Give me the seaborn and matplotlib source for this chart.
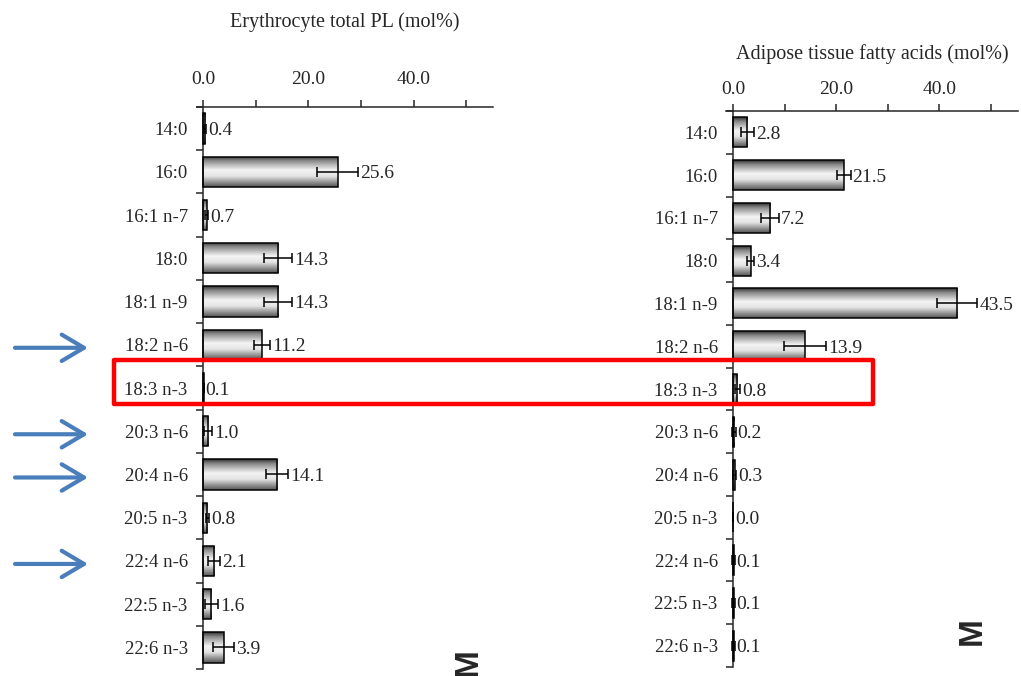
import numpy as np
import pandas as pd
import matplotlib
matplotlib.use("Agg")
import matplotlib.pyplot as plt
import seaborn as sns
from matplotlib.colors import LinearSegmentedColormap
from matplotlib.patches import Rectangle
from matplotlib.transforms import blended_transform_factory

# Fatty acid composition (mol%), mean and SD
fatty_acids = ["14:0", "16:0", "16:1 n-7", "18:0", "18:1 n-9", "18:2 n-6", "18:3 n-3",
               "20:3 n-6", "20:4 n-6", "20:5 n-3", "22:4 n-6", "22:5 n-3", "22:6 n-3"]
erythrocyte_mean = [0.4, 25.6, 0.7, 14.3, 14.3, 11.2, 0.1, 1.0, 14.1, 0.8, 2.1, 1.6, 3.9]
erythrocyte_sd = [0.2, 3.9, 0.3, 2.7, 2.7, 1.5, 0.0, 0.8, 2.1, 0.3, 1.2, 1.2, 2.0]
adipose_mean = [2.8, 21.5, 7.2, 3.4, 43.5, 13.9, 0.8, 0.2, 0.3, 0.0, 0.1, 0.1, 0.1]
adipose_sd = [1.2, 1.3, 1.7, 0.6, 3.9, 4.1, 0.5, 0.3, 0.3, 0.0, 0.2, 0.2, 0.2]
x_ticks = [0, 10, 20, 30, 40, 50]
x_ticklabels = ["0.0", "", "20.0", "", "40.0", ""]

highlighted = ["18:2 n-6", "20:3 n-6", "20:4 n-6", "22:4 n-6"]
boxed = "18:3 n-3"

sns.set_style("white")
plt.rcParams["font.family"] = ["Liberation Serif", "DejaVu Serif"]
plt.rcParams["axes.linewidth"] = 1.1

W, H = 1021, 676
fig = plt.figure(figsize=(W / 100, H / 100), dpi=100)

# cylinder-like shading for the bars
shade = LinearSegmentedColormap.from_list(
    "shade", [(0.0, "#333333"), (0.14, "#888888"), (0.45, "#f4f4f4"),
              (0.65, "#e4e4e4"), (1.0, "#555555")])
grad = np.linspace(0, 1, 64).reshape(-1, 1)


def draw_panel(ax, means, sds, title, xlim, tickpad, labelpad):
    df = pd.DataFrame({"fa": fatty_acids, "mol": means, "sd": sds})
    sns.barplot(data=df, x="mol", y="fa", orient="h", width=0.7, color="white",
                edgecolor="black", linewidth=1.1, ax=ax, errorbar=None)
    n = len(fatty_acids)
    ylim = (n - 0.5, -0.5)
    for p in ax.patches:
        x0, y0, w, h = p.get_x(), p.get_y(), p.get_width(), p.get_height()
        p.set_facecolor("none")
        p.set_zorder(3)
        if w <= 0:
            continue
        im = ax.imshow(grad, cmap=shade, aspect="auto", origin="upper",
                       extent=[x0, x0 + w, y0 + h, y0], zorder=2,
                       interpolation="bilinear")
        im.set_clip_path(p)
    ax.errorbar(df["mol"], np.arange(n), xerr=df["sd"], fmt="none",
                ecolor="black", elinewidth=1.1, capsize=3.8, capthick=1.1, zorder=4)
    for i, (v, s) in enumerate(zip(means, sds)):
        ax.annotate(f"{v:.1f}", xy=(v + s, i), xytext=(1.5, 0),
                    textcoords="offset points", ha="left", va="center_baseline",
                    fontsize=14, zorder=5)
    ax.set_xlim(*xlim)
    ax.set_ylim(*ylim)

    # value axis on top
    ax.xaxis.tick_top()
    ax.xaxis.set_label_position("top")
    ax.set_xticks(x_ticks)
    ax.set_xticklabels(x_ticklabels)
    ax.tick_params(axis="x", which="major", direction="out", length=5, width=1.1,
                   pad=tickpad, labelsize=14, top=True, bottom=False)
    ax.set_xlabel(title, fontsize=14.5, labelpad=labelpad)

    # category axis at zero, ticks between categories
    ax.set_yticks(np.arange(n + 1) - 0.5)
    ax.set_yticklabels([""] * (n + 1))
    ax.set_yticks(np.arange(n), minor=True)
    ax.set_yticklabels(fatty_acids, minor=True)
    ax.tick_params(axis="y", which="major", direction="out", length=5, width=1.1, left=True)
    ax.tick_params(axis="y", which="minor", length=0, pad=11, labelsize=13.5)
    ax.set_ylabel("")
    ax.spines["left"].set_position(("data", 0))
    ax.spines["right"].set_visible(False)
    ax.spines["bottom"].set_visible(False)
    ax.spines["top"].set_visible(True)
    ax.grid(False)


ax_l = fig.add_axes([197 / W, 1 - 669 / H, 296 / W, 562 / H])
ax_r = fig.add_axes([726 / W, 1 - 667 / H, 292 / W, 556 / H])
draw_panel(ax_l, erythrocyte_mean, erythrocyte_sd, "Erythrocyte total PL (mol%)",
           (-1.14, 55.1), 8.5, 32)
draw_panel(ax_r, adipose_mean, adipose_sd, "Adipose tissue fatty acids (mol%)",
           (-1.36, 55.3), 4.5, 16)

# arrows pointing at the n-6 series
trans_l = blended_transform_factory(fig.transFigure, ax_l.transData)
for fa in highlighted:
    i = fatty_acids.index(fa) + 0.07
    ax_l.annotate("", xy=(88 / W, i), xycoords=trans_l,
                  xytext=(15 / W, i), textcoords=trans_l,
                  arrowprops=dict(arrowstyle="->,head_length=1.6,head_width=0.95",
                                  lw=3.0, color="#4A7EBB", shrinkA=0, shrinkB=0),
                  annotation_clip=False)

# frame around the 18:3 n-3 row across both panels
k = fatty_acids.index(boxed)
fig.add_artist(Rectangle((114 / W, k - 0.64), 759 / W, 1.02, transform=trans_l,
                         fill=False, edgecolor="#FF0000", lw=3.2,
                         joinstyle="round", clip_on=False, zorder=10))

fig.text(468 / W, 1 - 662 / H, "M", rotation=90, fontsize=24, fontweight="bold",
         family="Liberation Sans", ha="center", va="center")
fig.text(972 / W, 1 - 631 / H, "M", rotation=90, fontsize=24, fontweight="bold",
         family="Liberation Sans", ha="center", va="center")

fig.savefig("out.png", dpi=100)
